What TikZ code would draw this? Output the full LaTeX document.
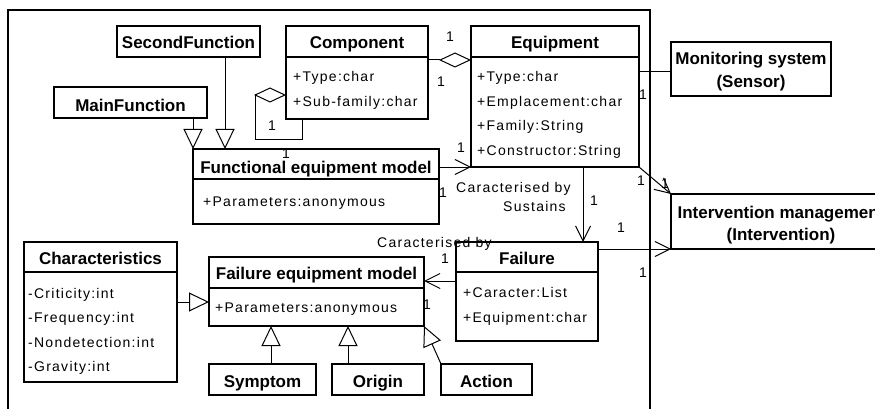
\documentclass[tikz,border=0pt]{standalone}
\usepackage{fontspec}
\setmainfont{Liberation Sans}
\newfontfamily\attrfont[LetterSpace=9]{Liberation Sans}
\usetikzlibrary{arrows.meta,calc}
\begin{document}
\begin{tikzpicture}[x=1pt,y=-1pt,
  box/.style={draw, line width=1.1pt, anchor=north west, inner sep=0pt, outer sep=0pt},
  hline/.style={line width=1.1pt},
  title/.style={anchor=base, inner sep=0pt, font=\fontsize{17}{20}\selectfont\bfseries},
  attr/.style={anchor=base west, inner sep=0pt, font=\attrfont\fontsize{14}{16}\selectfont},
  mult/.style={anchor=base, inner sep=0pt, font=\attrfont\fontsize{14}{16}\selectfont},
  conn/.style={line width=1pt},
  gen/.style={conn, -{Triangle[open,length=20pt,width=19pt]}},
  agg/.style={conn, -{Diamond[open,length=32pt,width=15pt]}},
  nav/.style={conn, -{Straight Barb[length=15pt,width=15pt]}},
]
\useasboundingbox (0,0) rectangle (875,409);
\clip (0,0) rectangle (875,409);

% frame
\draw[line width=1.1pt] (8,409) -- (8,10) -- (650,10) -- (650,409);

% SecondFunction
\node[box, minimum width=143pt, minimum height=31pt] (secf) at (117,26) {};
\node[title] (secfT) at (188.5,49) {SecondFunction};

% Component
\node[box, minimum width=142pt, minimum height=93pt] (comp) at (286,26) {};
\draw[hline] ($(comp.north west)+(0,31)$) -- ($(comp.north east)+(0,31)$);
\node[title] (compT) at (357,49) {Component};
\node[attr] (compA1) at (293,82) {+Type:char};
\node[attr] (compA2) at (293,107) {+Sub-family:char};

% MainFunction
\node[box, minimum width=153pt, minimum height=31pt] (mainf) at (54,87) {};
\node[title] (mainfT) at (130.5,112) {MainFunction};

% Functional equipment model
\node[box, minimum width=246pt, minimum height=75pt] (fem) at (193,149) {};
\draw[hline] ($(fem.north west)+(0,30)$) -- ($(fem.north east)+(0,30)$);
\node[title] (femT) at (316,173) {Functional equipment model};
\node[attr] (femA) at (203,206) {+Parameters:anonymous};

% Equipment
\node[box, minimum width=168pt, minimum height=141pt] (equip) at (471,26) {};
\draw[hline] ($(equip.north west)+(0,31)$) -- ($(equip.north east)+(0,31)$);
\node[title] (equipT) at (555,48.5) {Equipment};
\node[attr] (equipA1) at (477,82) {+Type:char};
\node[attr] (equipA2) at (477,107) {+Emplacement:char};
\node[attr] (equipA3) at (477,131) {+Family:String};
\node[attr] (equipA4) at (477,156) {+Constructor:String};

% Monitoring system
\node[box, minimum width=160pt, minimum height=54pt] (mon) at (671,42) {};
\node[title] (monT1) at (751,65) {Monitoring system};
\node[title] (monT2) at (751,88) {(Sensor)};

% Intervention management
\node[box, minimum width=220pt, minimum height=55pt] (inter) at (671,194) {};
\node[title] (interT1) at (781,218) {Intervention management};
\node[title] (interT2) at (781,240) {(Intervention)};

% Failure
\node[box, minimum width=142pt, minimum height=99pt] (failure) at (456,242) {};
\draw[hline] ($(failure.north west)+(0,30)$) -- ($(failure.north east)+(0,30)$);
\node[title] (failureT) at (527,264) {Failure};
\node[attr] (failureA1) at (463,297) {+Caracter:List};
\node[attr] (failureA2) at (463,322) {+Equipment:char};

% Failure equipment model
\node[box, minimum width=215pt, minimum height=69pt] (fem2) at (209,257) {};
\draw[hline] ($(fem2.north west)+(0,31)$) -- ($(fem2.north east)+(0,31)$);
\node[title] (fem2T) at (316.5,279) {Failure equipment model};
\node[attr] (fem2A) at (215,312) {+Parameters:anonymous};

% Characteristics
\node[box, minimum width=153pt, minimum height=140pt] (charac) at (24,242) {};
\draw[hline] ($(charac.north west)+(0,30)$) -- ($(charac.north east)+(0,30)$);
\node[title] (characT) at (100.5,264) {Characteristics};
\node[attr] (characA1) at (28,298) {-Criticity:int};
\node[attr] (characA2) at (28,322) {-Frequency:int};
\node[attr] (characA3) at (28,347) {-Nondetection:int};
\node[attr] (characA4) at (28,371) {-Gravity:int};

% Symptom, Origin, Action
\node[box, minimum width=107pt, minimum height=31pt] (symp) at (209,364) {};
\node[title] (sympT) at (262.5,387) {Symptom};
\node[box, minimum width=92pt, minimum height=31pt] (orig) at (332,364) {};
\node[title] (origT) at (378,387) {Origin};
\node[box, minimum width=91pt, minimum height=31pt] (action) at (441,364) {};
\node[title] (actionT) at (486.5,387) {Action};

% ---- connectors ----
\draw[gen] (mainf.south -| fem.north west) -- (fem.north west);
\coordinate (secfIn) at ($(fem.north west)+(32,0)$);
\draw[gen] (secfIn |- secf.south) -- (secfIn);

\coordinate (compLoop) at ($(comp.south west)+(16,0)$);
\coordinate (compDia) at ($(comp.north west)+(0,69)$);
\draw[agg] (compLoop) -- ++(0,21) -- ++(-47,0) -- ++(0,-45) -- (compDia);

\coordinate (ceY) at ($(comp.north east)+(0,34)$);
\draw[agg] (ceY) -- (ceY -| equip.west);

\coordinate (feY) at ($(fem.north east)+(0,18)$);
\draw[nav] (feY) -- (feY -| equip.west);

\coordinate (emY) at ($(equip.north east)+(0,46)$);
\draw[conn] (emY) -- (emY -| mon.west);

\draw[nav] (equip.south east) -- (inter.north west);

\coordinate (efX) at ($(equip.south west)+(112,0)$);
\draw[nav] (efX) -- (efX |- failure.north);

\draw[nav] (failure.east |- inter.south west) -- (inter.south west);

\coordinate (ffY) at ($(failure.north west)+(0,39)$);
\draw[nav] (ffY) -- (ffY -| fem2.east);

\coordinate (chY) at ($(charac.north east)+(0,60)$);
\draw[gen] (chY) -- (chY -| fem2.west);

\coordinate (syX) at ($(symp.north west)+(62,0)$);
\draw[gen] (syX) -- (syX |- fem2.south);
\coordinate (orX) at ($(orig.north west)+(16,0)$);
\draw[gen] (orX) -- (orX |- fem2.south);
\draw[gen] (action.north west) -- (fem2.south east);

% ---- labels ----
\node[mult] (m1) at (450,42) {1};
\node[mult] (m2) at (441,87) {1};
\node[mult] (m3) at (272,131) {1};
\node[mult] (m4) at (286,158) {1};
\node[mult] (m5) at (461,152) {1};
\node[mult] (m6) at (443,197) {1};
\node[mult] (m7) at (643,100) {1};
\node[mult] (m8) at (641,185) {1};
\node[mult] (m9) at (665,188) {1};
\node[mult] (m10) at (594,205) {1};
\node[mult] (m11) at (621,232) {1};
\node[mult] (m12) at (643,277) {1};
\node[mult] (m13) at (445,263) {1};
\node[mult] (m14) at (427,309) {1};
\node[attr] (lab1) at (456,192) {Caracterised by};
\node[attr] (lab2) at (503,211) {Sustains};
\node[attr] (lab3) at (377,247) {Caracterised by};
\end{tikzpicture}
\end{document}
